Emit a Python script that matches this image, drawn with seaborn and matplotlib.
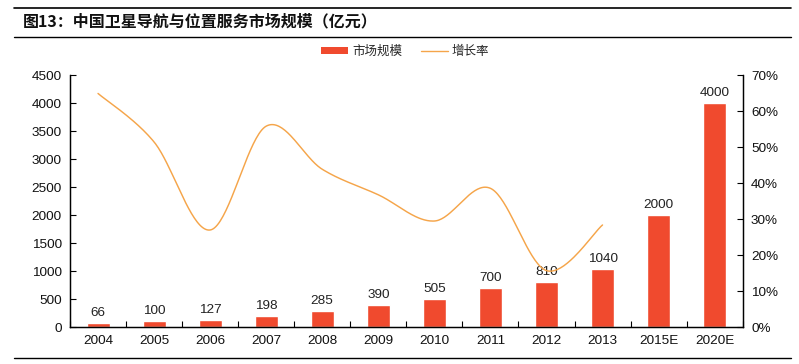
import numpy as np
import pandas as pd
import matplotlib
matplotlib.use("Agg")
import matplotlib.pyplot as plt
import seaborn as sns
from matplotlib.patches import Patch
from matplotlib.lines import Line2D

years = ["2004", "2005", "2006", "2007", "2008", "2009", "2010", "2011", "2012", "2013", "2015E", "2020E"]
market = [66, 100, 127, 198, 285, 390, 505, 700, 810, 1040, 2000, 4000]
growth_years = ["2004", "2005", "2006", "2007", "2008", "2009", "2010", "2011", "2012", "2013"]
growth = [0.65, 0.515, 0.27, 0.559, 0.439, 0.368, 0.295, 0.386, 0.157, 0.284]

title = "图13：中国卫星导航与位置服务市场规模（亿元）"
bar_name = "市场规模"
line_name = "增长率"

BAR_C = "#F04A2E"
LINE_C = "#F5A54A"

sns.set_theme(style="white")
plt.rcParams["font.family"] = ["Liberation Sans", "Noto Sans CJK SC", "DejaVu Sans"]

fig = plt.figure(figsize=(7.99, 3.64), dpi=100)
ax = fig.add_axes([0.0876, 0.1016, 0.9295 - 0.0876, 0.7926 - 0.1016])

df = pd.DataFrame({"year": years, "value": market})
sns.barplot(data=df, x="year", y="value", color=BAR_C, width=0.41, ax=ax, saturation=1)
ax.set_xlabel("")
ax.set_ylabel("")
ax.set_ylim(0, 4500)
ax.set_yticks(np.arange(0, 4501, 500))
ax.set_xlim(-0.5, len(years) - 0.5)

for i, v in enumerate(market):
    ax.annotate(str(v), (i, v), xytext=(0, 3), textcoords="offset points",
                ha="center", va="bottom", fontsize=9.7, color="#222222")

# x ticks between categories
ax.set_xticks(np.arange(len(years)))
ax.set_xticklabels(years, fontsize=9.7, color="#111111")
ax.set_xticks(np.arange(-0.5, len(years) + 0.5, 1), minor=True)
ax.tick_params(axis="x", which="major", length=0, pad=6)
ax.tick_params(axis="x", which="minor", direction="in", length=4, width=0.8, color="black", bottom=True)
ax.tick_params(axis="y", direction="in", length=4, width=0.8, color="black", left=True, labelsize=9.7, labelcolor="#111111", pad=6)

for s in ["left", "bottom", "right"]:
    ax.spines[s].set_visible(True)
    ax.spines[s].set_color("black")
    ax.spines[s].set_linewidth(0.9)
ax.spines["top"].set_visible(False)

ax2 = ax.twinx()
ax2.set_ylim(0, 0.70)
ax2.set_yticks(np.arange(0, 0.701, 0.1))
ax2.set_yticklabels([f"{int(round(t*100))}%" for t in np.arange(0, 0.701, 0.1)])
ax2.tick_params(axis="y", direction="in", length=4, width=0.8, color="black", right=True, labelsize=9.7, labelcolor="#111111", pad=6)
ax2.spines["top"].set_visible(False)
for s in ["left", "bottom", "right"]:
    ax2.spines[s].set_color("black")
    ax2.spines[s].set_linewidth(0.9)

# smooth (Catmull-Rom) curve through growth points
px = np.array([years.index(y) for y in growth_years], dtype=float)
py = np.array(growth, dtype=float)
P = np.column_stack([px, py])
Pext = np.vstack([P[0], P, P[-1]])
xs, ys = [], []
t = np.linspace(0, 1, 40)
for i in range(1, len(Pext) - 2):
    p0, p1, p2, p3 = Pext[i - 1], Pext[i], Pext[i + 1], Pext[i + 2]
    m1 = (p2 - p0) / 2
    m2 = (p3 - p1) / 2
    h00 = 2 * t**3 - 3 * t**2 + 1
    h10 = t**3 - 2 * t**2 + t
    h01 = -2 * t**3 + 3 * t**2
    h11 = t**3 - t**2
    seg = np.outer(h00, p1) + np.outer(h10, m1) + np.outer(h01, p2) + np.outer(h11, m2)
    xs.extend(seg[:, 0]); ys.extend(seg[:, 1])
ax2.plot(xs, ys, color=LINE_C, lw=1.05)

# legend
handles = [Patch(facecolor=BAR_C, edgecolor="none", label=bar_name),
           Line2D([0], [0], color=LINE_C, lw=1.0, label=line_name)]
fig.legend(handles=handles, loc="center", bbox_to_anchor=(0.507, 0.858), ncol=2, frameon=False,
           prop={"family": ["Noto Sans CJK SC"], "size": 9}, handlelength=2.2, handleheight=0.5,
           columnspacing=1.5, handletextpad=0.3)

# title and rules
fig.text(0.028, 0.942, title, fontsize=11.5, fontweight="bold", va="center", ha="left",
         family=["Noto Sans CJK SC", "DejaVu Sans"], color="#111111")
for yy, lw in [(1 - 8 / 364, 1.2), (1 - 37 / 364, 1.0), (1 - 358 / 364, 1.0)]:
    fig.add_artist(Line2D([0.017, 0.99], [yy, yy], color="black", lw=lw, transform=fig.transFigure))

fig.savefig("out.png", dpi=100)
